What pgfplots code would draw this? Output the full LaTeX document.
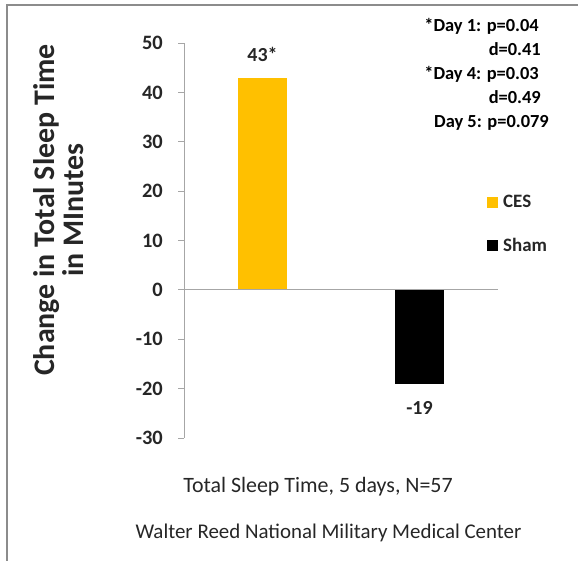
\documentclass[border=0pt]{standalone}
\usepackage{pgfplots}
\pgfplotsset{compat=1.18}
\usepackage{fontspec}
\setmainfont{Carlito}
\definecolor{cesgold}{HTML}{FFC000}
\definecolor{axisgray}{HTML}{A6A6A6}
\definecolor{framegray}{HTML}{8C8C8C}
\definecolor{txt}{HTML}{262626}
\begin{document}
\begin{tikzpicture}
\begin{axis}[
  scale only axis, width=314bp, height=395bp,
  xmin=0.5, xmax=2.5, ymin=-30, ymax=50,
  axis x line=none, axis y line*=left,
  y axis line style={axisgray, line width=1bp},
  ytick={-30,-20,-10,0,10,20,30,40,50},
  tick align=outside, major tick length=6bp,
  ytick style={axisgray, line width=1bp},
  /pgf/number format/assume math mode=true,
  yticklabel style={font=\fontsize{20.5}{24}\selectfont\bfseries, text=txt, inner sep=0pt, anchor=east, xshift=-15bp},
  ylabel={Change in Total Sleep Time\\in MInutes},
  every axis y label/.style={at={(axis description cs:-0.398,0.577)}, rotate=90, anchor=center, align=center, font=\fontsize{30}{29}\selectfont\bfseries, text=txt},
  ybar, bar width=49bp, bar shift=0pt,
  clip=false,
  point meta=explicit symbolic,
  nodes near coords,
  legend style={draw=none, fill=none, at={(axis description cs:0.965,0.6177)}, anchor=north west,
    inner sep=0pt, font=\fontsize{19}{21}\selectfont\bfseries, text=txt, row sep=27bp,
    nodes={inner sep=1bp},
    /tikz/every odd column/.append style={column sep=4bp}},
  legend cell align=left,
  legend image code/.code={\fill[#1,draw=none] (0bp,-5.5bp) rectangle (11bp,5.5bp);},
]
\addplot[fill=cesgold, draw=none,
  every node near coord/.append style={font=\fontsize{20}{24}\selectfont\bfseries, text=txt, inner sep=0pt, anchor=south, yshift=16bp}]
  coordinates {(1,43) [43*]};
\addlegendentry{CES}
\addplot[fill=black, draw=none,
  every node near coord/.append style={font=\fontsize{20}{24}\selectfont\bfseries, text=txt, inner sep=0pt, anchor=north, yshift=-18bp}]
  coordinates {(2,-19) [-19]};
\addlegendentry{Sham}
\draw[axisgray, line width=1.2bp] (axis cs:0.5,0) -- (axis cs:2.5,0);
\end{axis}
\begin{scope}[shift={(-184bp,438bp)}, x=1bp, y=-1bp]
  % frame
  \draw[framegray, line width=2bp] (7,561) -- (7,5) -- (580,5);
  % annotations
  \begin{scope}[every node/.style={font=\fontsize{18.5}{20}\selectfont\bfseries, text=black, inner sep=0pt, anchor=base east}]
    \node at (539,32) {*Day 1: p=0.04};
    \node at (541,56) {d=0.41};
    \node at (539,80) {*Day 4: p=0.03};
    \node at (541,104) {d=0.49};
    \node at (549,128) {Day 5: p=0.079};
  \end{scope}
  \node[font=\fontsize{22}{24}\selectfont, text=txt] at (318,487) {Total Sleep Time, 5 days, N=57};
  \node[font=\fontsize{21}{24}\selectfont, text=txt] at (328.5,533) {Walter Reed National Military Medical Center};
  \pgfresetboundingbox
  \path[use as bounding box] (0,0) rectangle (578,561);
\end{scope}
\end{tikzpicture}
\end{document}
